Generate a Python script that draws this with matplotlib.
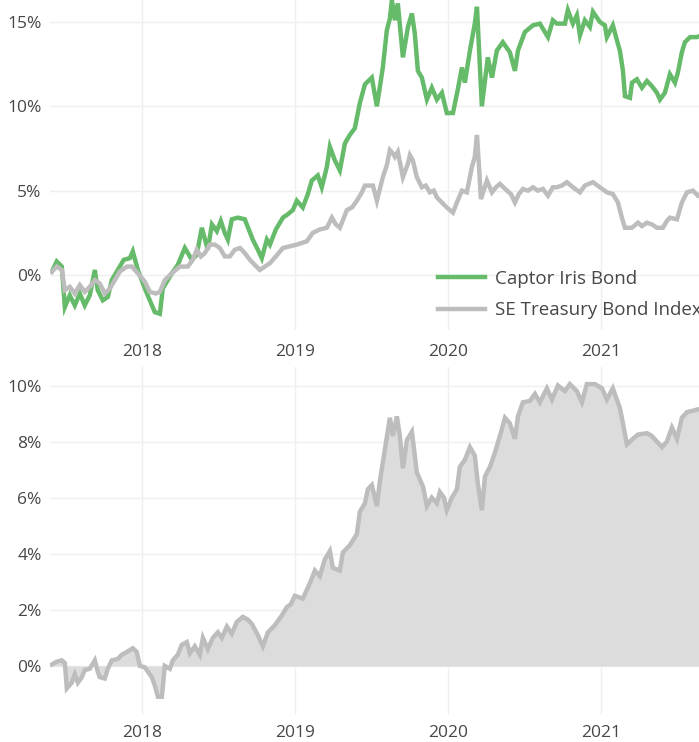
import matplotlib
matplotlib.use("Agg")
import matplotlib.pyplot as plt
from matplotlib.ticker import FuncFormatter

plt.rcParams['font.family'] = ['Open Sans', 'DejaVu Sans']

# ---------------- data (decimal years, percent) ----------------
fund_t = [2017.412, 2017.444, 2017.477, 2017.497, 2017.529, 2017.562, 2017.595, 2017.627, 2017.660, 2017.693,
          2017.712, 2017.745, 2017.778, 2017.804, 2017.843, 2017.882, 2017.922, 2017.941, 2017.974, 2018.020,
          2018.052, 2018.085, 2018.118, 2018.137, 2018.170, 2018.196, 2018.235, 2018.281, 2018.327, 2018.359,
          2018.392, 2018.431, 2018.458, 2018.490, 2018.516, 2018.542, 2018.562, 2018.588, 2018.627, 2018.673,
          2018.725, 2018.758, 2018.784, 2018.817, 2018.837, 2018.876, 2018.922, 2018.954, 2018.987, 2019.013,
          2019.052, 2019.085, 2019.111, 2019.150, 2019.176, 2019.209, 2019.229, 2019.261, 2019.294, 2019.327,
          2019.359, 2019.392, 2019.425, 2019.458, 2019.503, 2019.536, 2019.575, 2019.601, 2019.621, 2019.634,
          2019.654, 2019.673, 2019.706, 2019.739, 2019.765, 2019.784, 2019.804, 2019.830, 2019.863, 2019.895,
          2019.928, 2019.961, 2019.993, 2020.033, 2020.065, 2020.092, 2020.111, 2020.144, 2020.176, 2020.190,
          2020.222, 2020.261, 2020.288, 2020.320, 2020.359, 2020.405, 2020.438, 2020.458, 2020.503, 2020.556,
          2020.601, 2020.654, 2020.686, 2020.712, 2020.765, 2020.784, 2020.817, 2020.843, 2020.863, 2020.895,
          2020.928, 2020.948, 2020.993, 2021.026, 2021.039, 2021.078, 2021.105, 2021.124, 2021.144, 2021.157,
          2021.190, 2021.203, 2021.235, 2021.268, 2021.301, 2021.333, 2021.366, 2021.386, 2021.418, 2021.451,
          2021.484, 2021.503, 2021.529, 2021.549, 2021.582, 2021.627, 2021.680]
fund = [0.2, 0.8, 0.5, -1.9, -1.2, -1.8, -1.1, -1.8, -1.2, 0.3,
        -0.9, -1.5, -1.3, -0.3, 0.3, 0.9, 1.0, 1.4, 0.3, -0.8,
        -1.5, -2.2, -2.3, -0.8, -0.3, 0.1, 0.6, 1.6, 0.9, 1.2,
        2.8, 1.5, 3.0, 2.6, 3.2, 2.5, 2.1, 3.3, 3.4, 3.3,
        2.1, 1.5, 1.0, 2.1, 1.8, 2.7, 3.4, 3.6, 3.85, 4.4,
        4.0, 4.8, 5.6, 5.9, 5.2, 6.4, 7.6, 6.8, 6.2, 7.8,
        8.3, 8.7, 10.2, 11.3, 11.7, 10.0, 12.3, 14.5, 15.2, 16.3,
        15.1, 16.1, 12.9, 14.7, 15.5, 14.3, 12.1, 11.7, 10.4, 11.1,
        10.4, 10.8, 9.6, 9.6, 11.0, 12.3, 11.4, 13.3, 14.9, 15.9,
        10.0, 12.9, 11.7, 13.3, 13.8, 13.2, 12.1, 13.3, 14.4, 14.8,
        14.9, 14.1, 15.1, 14.9, 14.9, 15.7, 14.9, 15.4, 14.2, 15.1,
        14.7, 15.6, 15.0, 14.8, 14.1, 14.8, 13.9, 13.3, 12.1, 10.6,
        10.5, 11.4, 11.6, 11.1, 11.5, 11.2, 10.8, 10.4, 10.8, 11.9,
        11.4, 12.0, 13.2, 13.8, 14.1, 14.1, 14.3]

index_t = [2017.412, 2017.444, 2017.477, 2017.497, 2017.529, 2017.562, 2017.595, 2017.627, 2017.660, 2017.693,
           2017.725, 2017.758, 2017.791, 2017.824, 2017.856, 2017.902, 2017.935, 2017.974, 2018.020, 2018.052,
           2018.092, 2018.118, 2018.150, 2018.196, 2018.248, 2018.301, 2018.333, 2018.359, 2018.386, 2018.412,
           2018.444, 2018.477, 2018.510, 2018.542, 2018.575, 2018.608, 2018.641, 2018.673, 2018.706, 2018.739,
           2018.771, 2018.804, 2018.837, 2018.876, 2018.922, 2018.967, 2019.013, 2019.046, 2019.078, 2019.118,
           2019.163, 2019.209, 2019.242, 2019.268, 2019.294, 2019.340, 2019.373, 2019.405, 2019.438, 2019.458,
           2019.510, 2019.536, 2019.575, 2019.601, 2019.621, 2019.641, 2019.654, 2019.673, 2019.706, 2019.739,
           2019.752, 2019.771, 2019.797, 2019.830, 2019.856, 2019.882, 2019.908, 2019.928, 2019.961, 2019.993,
           2020.033, 2020.059, 2020.092, 2020.124, 2020.157, 2020.176, 2020.190, 2020.203, 2020.216, 2020.255,
           2020.288, 2020.314, 2020.340, 2020.386, 2020.412, 2020.438, 2020.464, 2020.490, 2020.523, 2020.556,
           2020.588, 2020.621, 2020.654, 2020.686, 2020.712, 2020.745, 2020.778, 2020.817, 2020.863, 2020.895,
           2020.948, 2020.993, 2021.039, 2021.078, 2021.111, 2021.137, 2021.157, 2021.203, 2021.242, 2021.268,
           2021.301, 2021.333, 2021.366, 2021.405, 2021.431, 2021.451, 2021.497, 2021.529, 2021.562, 2021.601,
           2021.634, 2021.680]
index = [0.2, 0.5, 0.3, -0.9, -0.7, -1.1, -0.6, -1.0, -0.7, -0.3,
         -0.5, -1.1, -0.8, -0.3, 0.2, 0.5, 0.5, 0.1, -0.4, -1.0,
         -1.1, -1.0, -0.3, 0.1, 0.5, 0.5, 0.9, 1.5, 1.1, 1.3,
         1.8, 1.8, 1.6, 1.1, 1.1, 1.5, 1.6, 1.3, 0.9, 0.6,
         0.3, 0.5, 0.7, 1.1, 1.6, 1.7, 1.8, 1.9, 2.0, 2.5,
         2.7, 2.8, 3.4, 3.0, 2.8, 3.85, 4.0, 4.4, 4.9, 5.3,
         5.3, 4.4, 5.8, 6.5, 7.4, 7.2, 7.0, 7.3, 5.8, 6.6,
         7.1, 6.8, 5.8, 5.2, 5.3, 4.9, 5.0, 4.6, 4.3, 4.0,
         3.7, 4.3, 5.0, 4.9, 6.4, 7.0, 8.3, 6.5, 4.5, 5.6,
         4.9, 5.2, 5.4, 5.0, 4.8, 4.3, 4.8, 5.1, 5.0, 5.2,
         5.0, 5.1, 4.7, 5.2, 5.2, 5.3, 5.5, 5.2, 4.9, 5.3,
         5.5, 5.2, 4.9, 4.8, 4.3, 3.4, 2.8, 2.8, 3.1, 2.9,
         3.1, 3.0, 2.8, 2.8, 3.2, 3.4, 3.3, 4.3, 4.9, 5.0,
         4.7, 5.0]

rel_t = [2017.412, 2017.444, 2017.477, 2017.497, 2017.510, 2017.542, 2017.562, 2017.582, 2017.608, 2017.627,
         2017.660, 2017.693, 2017.712, 2017.725, 2017.758, 2017.778, 2017.804, 2017.843, 2017.869, 2017.902,
         2017.941, 2017.967, 2017.987, 2018.020, 2018.065, 2018.085, 2018.105, 2018.131, 2018.150, 2018.183,
         2018.203, 2018.235, 2018.261, 2018.294, 2018.314, 2018.346, 2018.379, 2018.399, 2018.431, 2018.464,
         2018.497, 2018.523, 2018.556, 2018.588, 2018.621, 2018.660, 2018.693, 2018.719, 2018.758, 2018.791,
         2018.824, 2018.869, 2018.915, 2018.948, 2018.974, 2019.000, 2019.052, 2019.098, 2019.131, 2019.163,
         2019.196, 2019.229, 2019.248, 2019.294, 2019.314, 2019.359, 2019.405, 2019.425, 2019.458, 2019.477,
         2019.503, 2019.536, 2019.556, 2019.588, 2019.621, 2019.641, 2019.667, 2019.686, 2019.706, 2019.732,
         2019.765, 2019.797, 2019.837, 2019.863, 2019.895, 2019.928, 2019.948, 2019.974, 2019.993, 2020.026,
         2020.059, 2020.078, 2020.111, 2020.144, 2020.176, 2020.196, 2020.222, 2020.242, 2020.275, 2020.307,
         2020.340, 2020.373, 2020.405, 2020.438, 2020.458, 2020.490, 2020.536, 2020.569, 2020.601, 2020.647,
         2020.680, 2020.719, 2020.765, 2020.797, 2020.843, 2020.876, 2020.908, 2020.961, 2021.007, 2021.039,
         2021.078, 2021.124, 2021.144, 2021.170, 2021.209, 2021.242, 2021.301, 2021.333, 2021.366, 2021.399,
         2021.431, 2021.464, 2021.497, 2021.529, 2021.562, 2021.601, 2021.634, 2021.680]
relative = [0.05, 0.15, 0.2, 0.1, -0.8, -0.6, -0.3, -0.6, -0.4, -0.15,
            -0.1, 0.2, -0.2, -0.4, -0.45, -0.1, 0.2, 0.25, 0.4, 0.5,
            0.63, 0.5, 0.0, -0.05, -0.4, -0.7, -1.1, -1.1, 0.0, -0.1,
            0.2, 0.4, 0.75, 0.85, 0.45, 0.7, 0.4, 1.0, 0.6, 1.0,
            1.2, 1.0, 1.4, 1.15, 1.57, 1.75, 1.65, 1.5, 1.1, 0.7,
            1.2, 1.45, 1.8, 2.1, 2.2, 2.5, 2.4, 2.95, 3.4, 3.2,
            3.8, 4.1, 3.5, 3.4, 4.05, 4.3, 4.7, 5.5, 5.8, 6.3,
            6.45, 5.7, 6.6, 7.7, 8.85, 8.2, 8.9, 8.2, 7.05, 8.05,
            8.35, 6.9, 6.4, 5.7, 6.0, 5.8, 6.2, 6.0, 5.55, 6.0,
            6.3, 7.1, 7.35, 7.8, 7.5, 6.5, 5.55, 6.75, 7.1, 7.6,
            8.2, 8.85, 8.65, 8.1, 8.9, 9.4, 9.45, 9.7, 9.4, 9.9,
            9.5, 10.0, 9.8, 10.05, 9.8, 9.4, 10.05, 10.05, 9.9, 9.5,
            9.9, 9.2, 8.65, 7.9, 8.1, 8.25, 8.3, 8.2, 8.0, 7.8,
            8.0, 8.5, 8.1, 8.85, 9.05, 9.1, 9.15, 9.2]

series_names = ["Captor Iris Bond", "SE Treasury Bond Index"]
year_ticks = [2018, 2019, 2020, 2021]
year_labels = ["2018", "2019", "2020", "2021"]
top_yticks = [0, 5, 10, 15]
bottom_yticks = [0, 2, 4, 6, 8, 10]

# ---------------- style ----------------
GREEN = '#66bb6a'
GREY = '#bdbdbd'
FILL = '#dcdcdc'
GRID = '#efefef'
TEXT = '#474747'

W, H = 699, 742
fig = plt.figure(figsize=(W / 100, H / 100), dpi=100)
fig.patch.set_facecolor('white')

ax1 = fig.add_axes([50 / W, 1 - 330 / H, 649 / W, 330 / H])
ax2 = fig.add_axes([50 / W, 1 - 715 / H, 649 / W, 348 / H])

pct = FuncFormatter(lambda v, p: f"{v:g}%")

for ax in (ax1, ax2):
    ax.set_xlim(2017.40, 2021.641)
    for s in ax.spines.values():
        s.set_visible(False)
    ax.grid(True, color=GRID, linewidth=1.0)
    ax.set_axisbelow(True)
    ax.tick_params(length=0, labelsize=12.5, colors=TEXT, pad=6)
    ax.set_xticks(year_ticks)
    ax.set_xticklabels(year_labels)
    ax.yaxis.set_major_formatter(pct)

ax1.tick_params(axis='x', pad=10)
ax2.tick_params(axis='x', pad=7)

ax1.set_ylim(-3.26, 16.3)
ax1.set_yticks(top_yticks)
ax1.plot(fund_t, fund, color=GREEN, lw=3.2, label=series_names[0], solid_joinstyle='miter')
ax1.plot(index_t, index, color=GREY, lw=3.2, label=series_names[1], solid_joinstyle='miter')
leg = ax1.legend(loc='upper left', bbox_to_anchor=(438 / W, 1 - 270 / H),
                 bbox_transform=fig.transFigure, frameon=False, fontsize=13.5,
                 borderpad=0, borderaxespad=0, handlelength=2.5, handletextpad=0.53,
                 labelspacing=0.7)
for t in leg.get_texts():
    t.set_color(TEXT)

ax2.set_ylim(-1.75, 10.66)
ax2.set_yticks(bottom_yticks)
ax2.fill_between(rel_t, relative, 0, color=FILL, lw=0)
ax2.plot(rel_t, relative, color=GREY, lw=3.2, solid_joinstyle='miter')

fig.savefig('out.png', dpi=100)
